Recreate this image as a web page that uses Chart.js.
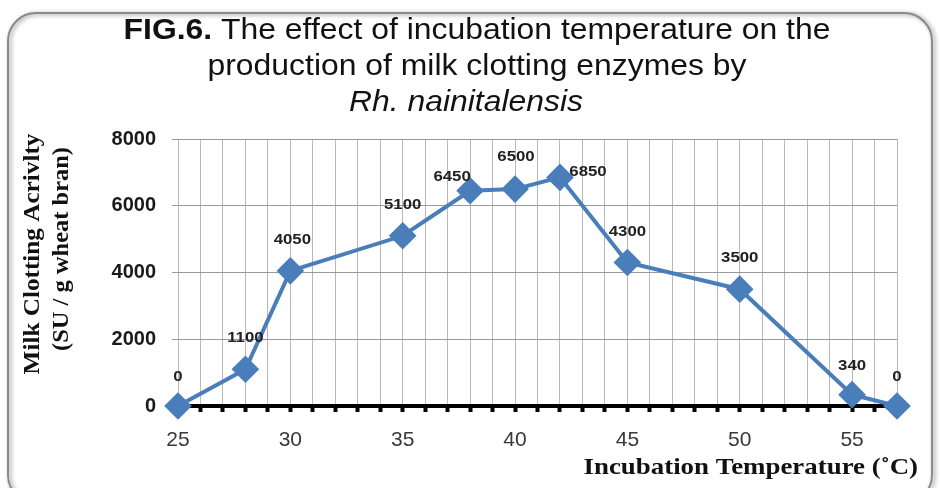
<!DOCTYPE html>
<html>
<head>
<meta charset="utf-8">
<script src="https://cdn.jsdelivr.net/npm/chart.js@4"></script>
<style>
  html, body { margin: 0; padding: 0; background: #fff; }
  canvas { display: block; }
</style>
</head>
<body>
<canvas id="myChart" width="940" height="488"></canvas>
<script>
// Data
let temps = [25, 28, 30, 35, 38, 40, 42, 45, 50, 55, 57];
let activity = [0, 1100, 4050, 5100, 6450, 6500, 6850, 4300, 3500, 340, 0];
let xTickLabels = [25, 30, 35, 40, 45, 50, 55];
let yTicks = [0, 2000, 4000, 6000, 8000];

// Where each value label sits relative to its marker (px)
let labelShift = [[0, -29], [0, -31], [2, -31], [0, -31], [-18, -14], [1, -32], [28, -6], [0, -31], [0, -31], [0, -29], [0, -29]];

let blue = "#4a7ebb";
let sans = "'Liberation Sans', Arial, sans-serif";
let serif = "'Liberation Serif', 'Times New Roman', serif";

// text drawn a bit wider than the font gives (the original looks stretched)
function wideText(c, text, x, y, sx) {
    c.save();
    c.translate(x, y);
    c.scale(sx, 1);
    c.fillText(text, 0, 0);
    c.restore();
}

// Frame, title, axis titles and value labels
let decorPlugin = {
    id: "decor",
    beforeDraw(chart) {
        let c = chart.ctx;
        c.save();
        c.fillStyle = "#fff";
        c.fillRect(0, 0, chart.width, chart.height);
        c.shadowColor = "rgba(0,0,0,0.45)";
        c.shadowBlur = 4;
        c.shadowOffsetX = 2;
        c.shadowOffsetY = 1;
        c.beginPath();
        c.roundRect(8, 13, 924, 490, 28);
        c.strokeStyle = "#8a8a8a";
        c.lineWidth = 2;
        c.stroke();
        c.restore();
    },
    afterDraw(chart) {
        let c = chart.ctx;
        c.save();
        c.fillStyle = "#111";
        c.textBaseline = "middle";

        // title
        let cx = 477, sx = 1.1;
        let p1 = "FIG.6.", p2 = " The effect of incubation temperature on the";
        c.font = "bold 29px " + sans;
        let w1 = c.measureText(p1).width * sx;
        c.font = "29px " + sans;
        let w2 = c.measureText(p2).width * sx;
        let x0 = cx - (w1 + w2) / 2;
        c.textAlign = "left";
        c.font = "bold 29px " + sans;
        wideText(c, p1, x0, 31, sx);
        c.font = "29px " + sans;
        wideText(c, p2, x0 + w1, 31, sx);
        c.textAlign = "center";
        wideText(c, "production of milk clotting enzymes by", cx, 67, sx);
        c.font = "italic 29px " + sans;
        wideText(c, "Rh. nainitalensis", 466, 103, sx);

        // y axis title
        c.font = "bold 24px " + serif;
        c.save();
        c.translate(33, 254);
        c.rotate(-Math.PI / 2);
        wideText(c, "Milk Clotting Acrivlty", 0, 0, 1.05);
        c.restore();
        c.save();
        c.translate(62, 249);
        c.rotate(-Math.PI / 2);
        wideText(c, "(SU / g wheat bran)", 0, 0, 1.02);
        c.restore();

        // x axis title
        c.textAlign = "right";
        c.font = "bold 24px " + serif;
        wideText(c, "Incubation Temperature (\u02DAC)", 918, 468, 1.12);

        // value labels
        let meta = chart.getDatasetMeta(0);
        c.textAlign = "center";
        c.font = "bold 15px " + sans;
        c.fillStyle = "#222";
        meta.data.forEach((pt, i) => {
            wideText(c, String(activity[i]), pt.x + labelShift[i][0], pt.y + labelShift[i][1], 1.12);
        });
        c.restore();
    }
};

let ctx = document.getElementById("myChart");

new Chart(ctx, {
    type: "line",
    data: {
        datasets: [
            {
                data: temps.map((t, i) => ({ x: t, y: activity[i] })),
                borderColor: blue,
                borderWidth: 4,
                backgroundColor: blue,
                pointStyle: "rectRot",
                pointRadius: 11,
                pointBackgroundColor: blue,
                pointBorderColor: blue,
                tension: 0,
                clip: false,
            },
        ],
    },
    options: {
        responsive: false,
        animation: false,
        layout: { padding: { top: 139, right: 43, left: 0, bottom: 0 } },
        plugins: { legend: { display: false }, tooltip: { enabled: false } },
        scales: {
            x: {
                type: "linear",
                min: 25,
                max: 57,
                afterFit: (scale) => { scale.height = 82; },
                afterBuildTicks: (scale) => {
                    let list = [];
                    for (let v = 25; v <= 57; v++) list.push({ value: v });
                    scale.ticks = list;
                },
                ticks: {
                    autoSkip: false,
                    maxRotation: 0,
                    padding: 16,
                    color: "#383838",
                    font: { family: sans, size: 21 },
                    callback: (v) => (xTickLabels.includes(v) ? String(v) : ""),
                },
                grid: {
                    color: "#b8b8b8",
                    lineWidth: 1,
                    tickColor: "#000",
                    tickLength: 6,
                    tickWidth: 4,
                },
                border: { display: true, color: "#000", width: 4 },
            },
            y: {
                min: 0,
                max: 8000,
                afterFit: (scale) => { scale.width = 178; },
                afterBuildTicks: (scale) => {
                    scale.ticks = yTicks.map((v) => ({ value: v }));
                },
                ticks: {
                    padding: 16,
                    color: "#1a1a1a",
                    font: { family: sans, size: 20, weight: "bold" },
                    callback: (v) => String(v),
                },
                grid: {
                    color: "#9a9a9a",
                    lineWidth: 1,
                    tickColor: "#9a9a9a",
                    tickLength: 6,
                },
                border: { display: false },
            },
        },
    },
    plugins: [decorPlugin],
});
</script>
</body>
</html>
